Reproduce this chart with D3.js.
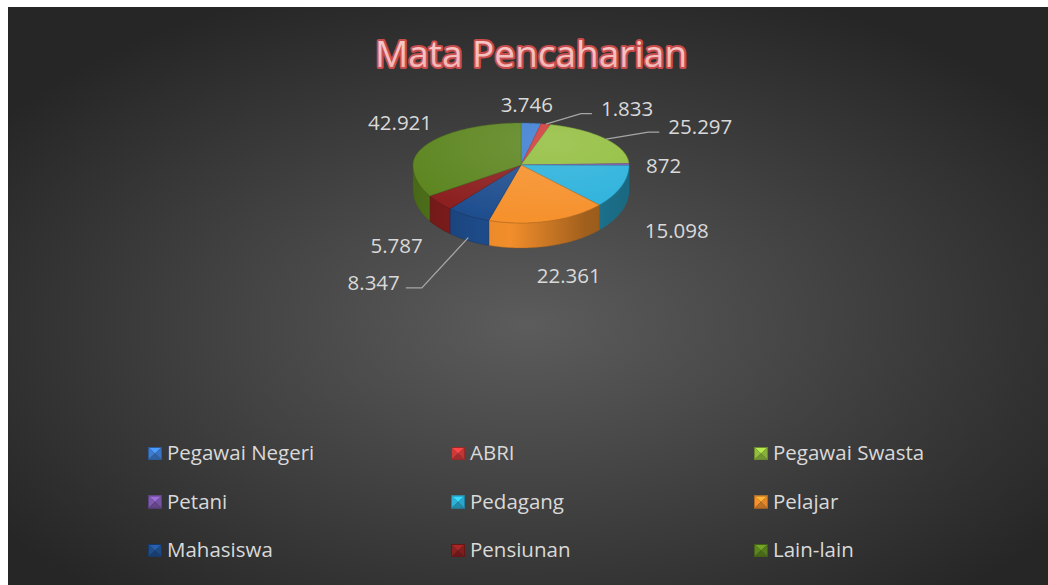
<!DOCTYPE html>
<html>
<head>
<meta charset="utf-8">
<script src="https://cdnjs.cloudflare.com/ajax/libs/d3/7.8.5/d3.min.js"></script>
<style>
  body { margin: 0; background: #fff; }
  #chart text { font-family: "Open Sans", sans-serif; }
</style>
</head>
<body>
<div id="chart"></div>
<script>
var title = "Mata Pencaharian";
var categories = ["Pegawai Negeri", "ABRI", "Pegawai Swasta", "Petani", "Pedagang", "Pelajar", "Mahasiswa", "Pensiunan", "Lain-lain"];
var values = [3746, 1833, 25297, 872, 15098, 22361, 8347, 5787, 42921];
var colors = ["#3d7dd1", "#d13838", "#92be3e", "#7f58b0", "#2cb2dc", "#f6912c", "#1f4e8f", "#8c1f1f", "#5c851f"];

// excel moved some labels off their default spot (those get leader lines)
var labelNudge = [[-8, 3], [72, 5], [58, 1], [3, 2], [13, 11], [9, 10], [-75, 24], [-12, 5], [14, -12]];

var W = 1048, H = 585;
var cx = 521, cy = 165, rx = 108, ryBack = 42, ryFront = 58, depth = 25;

var fmt = d3.formatLocale({decimal: ",", thousands: ".", grouping: [3], currency: ["Rp", ""]}).format(",");

var svg = d3.select("#chart").append("svg")
    .attr("width", W)
    .attr("height", H);
var defs = svg.append("defs");

// background
var bg = defs.append("radialGradient")
    .attr("id", "bg")
    .attr("cx", 0.5).attr("cy", 0.55).attr("r", 0.62);
bg.append("stop").attr("offset", 0).attr("stop-color", "#5c5c5c");
bg.append("stop").attr("offset", 1).attr("stop-color", "#262626");

svg.append("rect")
    .attr("x", 8).attr("y", 7)
    .attr("width", W - 8).attr("height", H - 7)
    .attr("fill", "url(#bg)");

// title
var tg = defs.append("linearGradient")
    .attr("id", "titleFill")
    .attr("x1", 0).attr("y1", 0).attr("x2", 0).attr("y2", 1);
tg.append("stop").attr("offset", 0).attr("stop-color", "#fad3d3");
tg.append("stop").attr("offset", 1).attr("stop-color", "#efaeae");

svg.append("text")
    .attr("x", 531)
    .attr("y", 67)
    .attr("text-anchor", "middle")
    .style("font-size", "37px")
    .attr("fill", "url(#titleFill)")
    .attr("stroke", "#c84c4c")
    .attr("stroke-width", 4)
    .attr("stroke-linejoin", "round")
    .attr("paint-order", "stroke")
    .text(title);

// projection of the tilted pie: back half is flatter than the front half
function proj(a, z) {
    var c = Math.cos(a);
    return [cx + rx * Math.sin(a), cy - (c > 0 ? ryBack : ryFront) * c + (z || 0)];
}
function arcPts(a0, a1, z) {
    var n = Math.max(2, Math.ceil((a1 - a0) / 0.01));
    return d3.range(n + 1).map(function (i) { return proj(a0 + (a1 - a0) * i / n, z); });
}
var line = d3.line();

var arcs = d3.pie().sort(null).value(function (d) { return d; })(values);

var pie = svg.append("g").attr("class", "pie");

// outer walls (front half only)
arcs.forEach(function (d, i) {
    var s = Math.max(d.startAngle, Math.PI / 2),
        e = Math.min(d.endAngle, 3 * Math.PI / 2);
    if (s >= e) return;

    var g = defs.append("linearGradient")
        .attr("id", "wall" + i)
        .attr("gradientUnits", "userSpaceOnUse")
        .attr("x1", cx - rx).attr("x2", cx + rx)
        .attr("y1", 0).attr("y2", 0);
    [[0, 0.7], [0.3, 0.15], [0.45, 0.05], [0.8, 1.2], [1, 1.5]].forEach(function (st) {
        g.append("stop").attr("offset", st[0])
            .attr("stop-color", d3.color(colors[i]).darker(st[1]));
    });

    var pts = arcPts(s, e, 0).concat(arcPts(s, e, depth).reverse());
    pie.append("path")
        .attr("d", line(pts) + "Z")
        .attr("fill", "url(#wall" + i + ")")
        .attr("stroke", d3.color(colors[i]).darker(1.2))
        .attr("stroke-width", 0.4);
});

// top faces
arcs.forEach(function (d, i) {
    var pts = [[cx, cy]].concat(arcPts(d.startAngle, d.endAngle, 0));
    pie.append("path")
        .attr("d", line(pts) + "Z")
        .attr("fill", colors[i])
        .attr("stroke", d3.color(colors[i]).darker(0.7))
        .attr("stroke-width", 0.6)
        .attr("stroke-linejoin", "round");
});

// soft highlight on top face
var hl = defs.append("radialGradient")
    .attr("id", "hl")
    .attr("cx", 0.65).attr("cy", 0.2).attr("r", 0.8);
hl.append("stop").attr("offset", 0).attr("stop-color", "#fff").attr("stop-opacity", 0.14);
hl.append("stop").attr("offset", 1).attr("stop-color", "#fff").attr("stop-opacity", 0);
pie.append("path")
    .attr("d", line(arcPts(0, 2 * Math.PI, 0)) + "Z")
    .attr("fill", "url(#hl)")
    .attr("pointer-events", "none");

// data labels
var labels = svg.append("g").attr("class", "labels");
arcs.forEach(function (d, i) {
    var mid = (d.startAngle + d.endAngle) / 2;
    var front = Math.cos(mid) < 0;
    var P = proj(mid, front ? depth : 0);

    var t = labels.append("text")
        .attr("text-anchor", "middle")
        .attr("fill", "#d9d9d9")
        .style("font-size", "20.5px")
        .text(fmt(d.value));
    var w = t.node().getComputedTextLength();

    var lx = P[0] + Math.sin(mid) * (14 + w / 2) + labelNudge[i][0];
    var ly = P[1] - Math.cos(mid) * 21 + labelNudge[i][1];
    t.attr("x", lx).attr("y", ly + 7);

    var nd = Math.sqrt(labelNudge[i][0] * labelNudge[i][0] + labelNudge[i][1] * labelNudge[i][1]);
    if (nd > 30) {
        var right = lx > P[0];
        var ex = right ? lx - w / 2 - 9 : lx + w / 2 + 6;
        var elbow = right ? ex - 11 : ex + 16;
        var ey = ly + 5;
        labels.append("path")
            .attr("d", line([proj(mid, front ? depth - 3 : 0), [elbow, ey], [ex, ey]]))
            .attr("fill", "none")
            .attr("stroke", "#a6a6a6")
            .attr("stroke-width", 1.3);
    }
});

// legend
var colX = d3.scaleLinear().domain([0, 2]).range([148, 754]);
var rowY = d3.scaleLinear().domain([0, 2]).range([460, 557]);
var mw = 14, mh = 13;

var legend = svg.append("g").attr("class", "legend")
    .selectAll("g")
    .data(categories)
    .enter().append("g")
    .attr("transform", function (d, i) {
        return "translate(" + colX(i % 3) + "," + rowY(Math.floor(i / 3)) + ")";
    });

legend.each(function (d, i) {
    var g = d3.select(this);
    var c = d3.color(colors[i]);
    var m = [mw / 2, -mh / 2];
    var facets = [
        [[[0, -mh], [mw, -mh], m], c.brighter(0.6)],
        [[[0, -mh], m, [0, 0]], c],
        [[[mw, -mh], m, [mw, 0]], c.darker(0.2)],
        [[[0, 0], m, [mw, 0]], c.darker(0.7)]
    ];
    facets.forEach(function (f) {
        g.append("path").attr("d", line(f[0]) + "Z").attr("fill", f[1]);
    });
    g.append("rect")
        .attr("x", 0.5).attr("y", -mh + 0.5)
        .attr("width", mw - 1).attr("height", mh - 1)
        .attr("fill", "none")
        .attr("stroke", c.darker(0.9))
        .attr("stroke-width", 1);
});

legend.append("text")
    .attr("x", 19)
    .attr("y", 0)
    .attr("fill", "#d9d9d9")
    .style("font-size", "20.5px")
    .text(function (d) { return d; });
</script>
</body>
</html>
